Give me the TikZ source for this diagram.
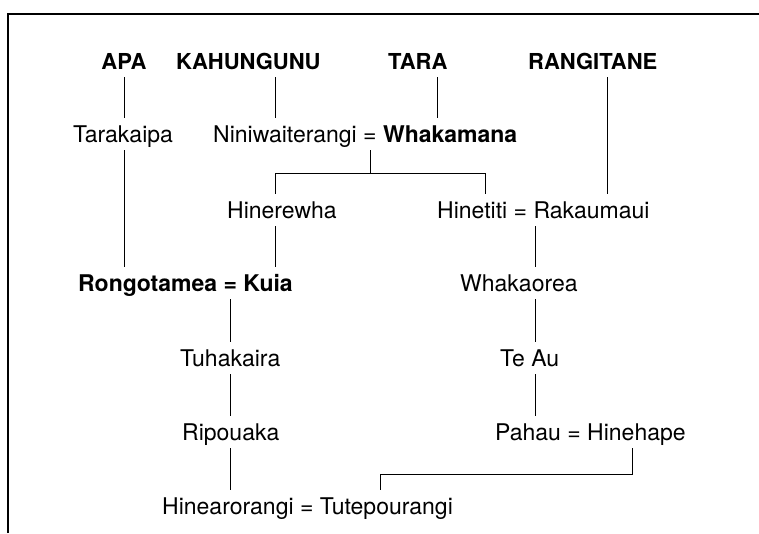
\documentclass[tikz,border=0pt]{standalone}
\usepackage{fontspec}
\setmainfont{TeX Gyre Heros}
\begin{document}
\begin{tikzpicture}[x=1pt,y=-1pt,
  nm/.style={inner xsep=0pt, inner ysep=8pt, text height=16pt, text depth=0pt,
             anchor=base west, font=\fontsize{23}{27}\selectfont},
  tribe/.style={nm, font=\fontsize{22}{26}\selectfont\bfseries},
  bnm/.style={nm, font=\fontsize{23}{27}\selectfont\bfseries},
  link/.style={line width=0.8pt},
  frame/.style={line width=2.6pt}]
\useasboundingbox (0,0) rectangle (759,533);
% frame
\draw[frame] (8,533) -- (8,14) -- (759,14);
% column guides
\coordinate (cA) at (124,0);
\coordinate (cK) at (275,0);
\coordinate (cT) at (437,0);
\coordinate (cR) at (607,0);
\coordinate (cH) at (485,0);
\coordinate (cW) at (535,0);
\coordinate (cP) at (632,0);
\coordinate (cU) at (380,0);
\coordinate (rowB1) at (0,173);
\coordinate (rowB2) at (0,474);
% row 1
\node[tribe, anchor=base] (apa) at (124,69) {APA};
\node[tribe] (kahu) at (176,69) {KAHUNGUNU};
\node[tribe] (tara) at (388,69) {TARA};
\node[tribe] (rangi) at (528,69) {RANGITANE};
% row 2
\node[nm, anchor=base] (tarak) at (123,142) {Tarakaipa};
\node[nm] (nini) at (213,142) {Niniwaiterangi};
\node[nm] (eqA) at ([xshift=6pt]nini.base east) {=};
\node[bnm] (whak) at ([xshift=6pt]eqA.base east) {Whakamana};
% row 3
\node[nm] (hrew) at (227,218) {Hinerewha};
\node[nm] (htit) at (437,218) {Hinetiti};
\node[nm] (eqB) at ([xshift=6pt]htit.base east) {=};
\node[nm] (rakau) at ([xshift=6pt]eqB.base east) {Rakaumaui};
% row 4
\node[bnm] (rongo) at (78,291) {Rongotamea};
\node[bnm] (eqC) at ([xshift=6pt]rongo.base east) {=};
\node[bnm] (kuia) at ([xshift=6pt]eqC.base east) {Kuia};
\node[nm] (whao) at (460,291) {Whakaorea};
% row 5
\node[nm] (tuha) at (180,366) {Tuhakaira};
\node[nm] (teau) at (500,366) {Te Au};
% row 6
\node[nm] (ripo) at (182,440) {Ripouaka};
\node[nm] (pahau) at (495,440) {Pahau};
\node[nm] (eqD) at ([xshift=6pt]pahau.base east) {=};
\node[nm] (hhape) at ([xshift=6pt]eqD.base east) {Hinehape};
% row 7
\node[nm] (hinea) at (162,514) {Hinearorangi};
\node[nm] (eqE) at ([xshift=6pt]hinea.base east) {=};
\node[nm] (tute) at ([xshift=6pt]eqE.base east) {Tutepourangi};
% links
\draw[link] (apa.south -| cA) -- (tarak.north -| cA);
\draw[link] (tarak.south -| cA) -- (rongo.north -| cA);
\draw[link] (kahu.south -| cK) -- (nini.north -| cK);
\draw[link] (tara.south -| cT) -- (whak.north -| cT);
\draw[link] (rangi.south -| cR) -- (rakau.north -| cR);
\draw[link] (eqA.south) -- (eqA.south |- rowB1);
\draw[link] (hrew.north -| cK) -- (rowB1 -| cK) -- (rowB1 -| cH) -- (htit.north -| cH);
\draw[link] (hrew.south -| cK) -- (kuia.north -| cK);
\draw[link] (eqC.south) -- (tuha.north -| eqC.south);
\draw[link] (tuha.south -| eqC.south) -- (ripo.north -| eqC.south);
\draw[link] (ripo.south -| eqC.south) -- (hinea.north -| eqC.south);
\draw[link] (rakau.south -| cW) -- (whao.north -| cW);
\draw[link] (whao.south -| cW) -- (teau.north -| cW);
\draw[link] (teau.south -| cW) -- (pahau.north -| cW);
\draw[link] (hhape.south -| cP) -- (rowB2 -| cP) -- (rowB2 -| cU) -- (tute.north -| cU);
\end{tikzpicture}
\end{document}
